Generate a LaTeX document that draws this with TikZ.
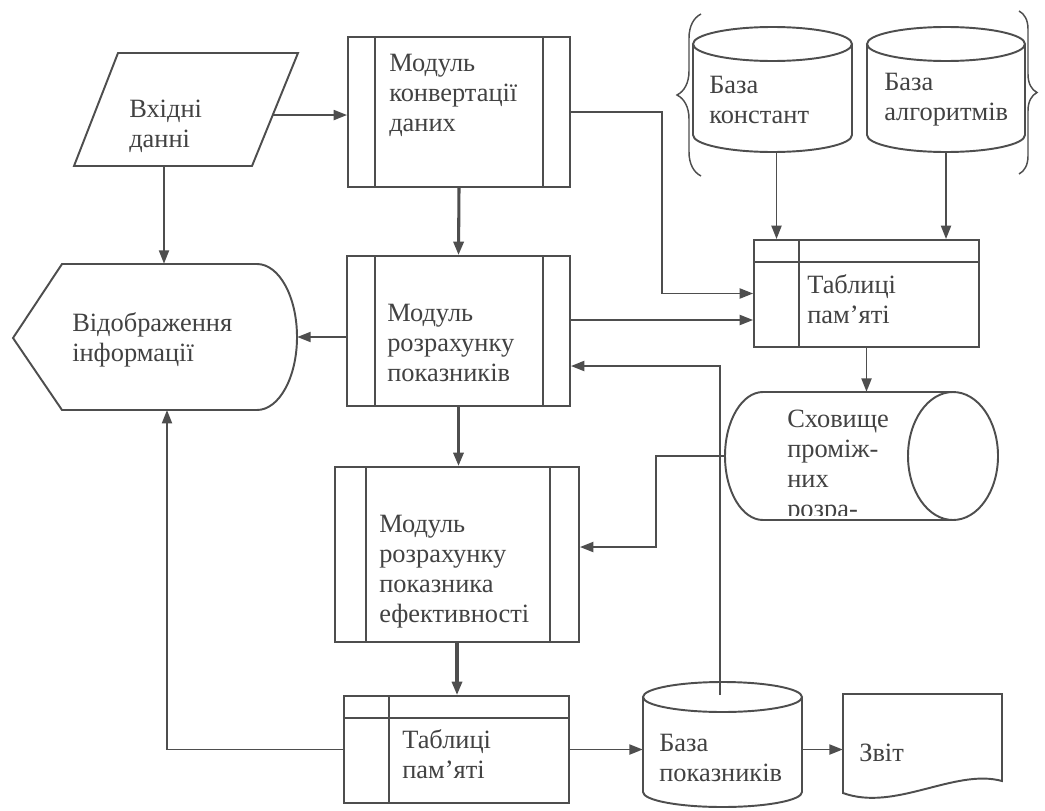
\documentclass[tikz,border=0pt]{standalone}
\usepackage{fontspec}
\setmainfont{Liberation Serif}
\usetikzlibrary{arrows.meta,fit,calc,decorations.pathreplacing}
\definecolor{ink}{RGB}{78,78,78}
\definecolor{txt}{RGB}{66,66,66}
\begin{document}
\begin{tikzpicture}[x=0.75pt,y=-0.75pt,
  line/.style={draw=ink,line width=1.45pt},
  conn/.style={line,-{Triangle[length=10pt,width=7.5pt]}},
  heavy/.style={line width=2.3pt},
  frame/.style={draw=ink,line width=1.45pt,inner sep=0pt},
  area/.style={inner sep=0pt},
  lbl/.style={text=txt,font=\fontsize{19.8}{22.5}\selectfont,align=left,inner sep=0pt,anchor=west},
  brc/.style={draw=ink,line width=1.1pt,decorate}]

\useasboundingbox[fill=white] (0,0) rectangle (1045,810);

% ---------- input data (parallelogram)
\coordinate (in-tl) at (118,53);
\coordinate (in-tr) at (298,53);
\coordinate (in-br) at (252,166);
\coordinate (in-bl) at (74,166);
\draw[line] (in-tl) -- (in-tr) -- (in-br) -- (in-bl) -- cycle;
\node[area,fit=(in-tl)(in-tr)(in-br)(in-bl)] (in) {};
\coordinate (in-r) at ($(in-tr)!0.549!(in-br)$);
\coordinate (in-b) at (164,166);
\node[lbl] (in-t) at (129,126.5) {Вхідні\\данні};

% ---------- display (output to screen)
\draw[line] (13,338) -- (62,264) -- (257,264)
  arc[start angle=-90,end angle=90,x radius=40,y radius=73] -- (62,410) -- cycle;
\node[area,fit={(13,264)(297,410)}] (disp) {};
\coordinate (disp-b) at (167,410);
\node[lbl] (disp-t) at (72,339.5) {Відображення\\інформації};

% ---------- processing modules
\node[frame,fit={(348,37)(570,187)}] (m1) {};
\draw[line] (375,37) -- (375,187) (543,37) -- (543,187);
\node[lbl] (m1-t) at (389,95) {Модуль\\конвертації\\даних};

\node[frame,fit={(347,256)(570,406)}] (m2) {};
\draw[line] (375,256) -- (375,406) (543,256) -- (543,406);
\node[lbl] (m2-t) at (387,343) {Модуль\\розрахунку\\показників};
\coordinate (m2-o) at ($(m2.east)+(0,-11)$);
\coordinate (m2-i) at ($(m2.east)+(0,35)$);

\node[frame,fit={(335,467)(579,642)}] (m3) {};
\draw[line] (366,467) -- (366,642) (550,467) -- (550,642);
\node[lbl] (m3-t) at (379,572) {Модуль\\розрахунку\\показника\\ефективності};
\coordinate (m3-i) at ($(m3.east)+(0,-7.5)$);

% ---------- memory tables
\node[frame,fit={(754,240)(979,347)}] (t1) {};
\draw[line] (754,262) -- (979,262) (799,240) -- (799,347);
\node[lbl] (t1-t) at (807,299) {Таблиці\\пам’яті};

\node[frame,fit={(344,696)(569,803)}] (t2) {};
\draw[line] (344,718) -- (569,718) (389,696) -- (389,803);
\node[lbl] (t2-t) at (402,754) {Таблиці\\пам’яті};

% ---------- databases
\draw[line] (693,44) -- (693,135)
  arc[start angle=180,end angle=0,x radius=79.5,y radius=17] -- (852,44);
\draw[line] (772.5,44) ellipse [x radius=79.5,y radius=17];
\node[area,fit={(693,27)(852,152)}] (bk) {};
\node[lbl] (bk-t) at (709,100) {База\\констант};

\draw[line] (867,44) -- (867,135)
  arc[start angle=180,end angle=0,x radius=79,y radius=17] -- (1025,44);
\draw[line] (946,44) ellipse [x radius=79,y radius=17];
\node[area,fit={(867,27)(1025,152)}] (ba) {};
\node[lbl] (ba-t) at (884,100) {База\\алгоритмів};

\draw[line] (643,697) -- (643,792)
  arc[start angle=180,end angle=0,x radius=79.5,y radius=15] -- (802,697);
\draw[line] (722.5,697) ellipse [x radius=79.5,y radius=15];
\node[area,fit={(643,682)(802,807)}] (bp) {};
\coordinate (bp-top) at (720,695);
\node[lbl] (bp-t) at (659,758) {База\\показників};

% braces grouping the two reference databases
\draw[brc,decoration={brace,amplitude=18pt,raise=0pt}] (701,176) -- (701,14);
\draw[brc,decoration={brace,amplitude=13.5pt}] (1019,11) -- (1019,174);

% ---------- intermediate storage (horizontal drum)
\draw[line] (953,392) -- (763,392)
  arc[start angle=270,end angle=90,x radius=38,y radius=64] -- (953,520);
\draw[line] (953,456) ellipse [x radius=45,y radius=64];
\node[area,fit={(725,392)(998,520)}] (st) {};
\begin{scope}
  \clip (725,385) rectangle (905,515);
  \node[lbl] (st-t) at (787,467) {Сховище\\проміж-\\них\\розра-};
\end{scope}

% ---------- report document
\draw[line] (843,694) -- (1002,694) -- (1002,781)
  .. controls (955,768) and (895,812) .. (843,793) -- cycle;
\node[area,fit={(843,694)(1002,793)}] (zv) {};
\node[lbl] (zv-t) at (859,753) {Звіт};

% ---------- connectors
\draw[conn] (in-r) -- (m1.west |- in-r);
\draw[conn] (in-b) -- (disp.north -| in-b);
\draw[conn,heavy] (m1.south) -- (m2.north);
\draw[conn] (m1.east) -| ($(t1.west)+(-91,0)$) -- (t1.west);
\draw[conn] (m2.west |- disp.east) -- (disp.east);
\draw[conn] (m2-o) -- (t1.west |- m2-o);
\draw[conn] ($(bk.south)+(4,0)$) -- ($(bk.south |- t1.north)+(4,0)$);
\draw[conn] (ba.south) -- (ba.south |- t1.north);
\draw[conn] (t1.south) -- (t1.south |- st.north);
\draw[conn] (st.west) -- ++(-69,0) |- (m3-i);
\draw[conn,heavy] (m2.south) -- (m2.south |- m3.north);
\draw[conn,heavy] (m3.south) -- (m3.south |- t2.north);
\draw[conn] (t2.west) -| (disp-b);
\draw[conn] (t2.east) -- (bp.west |- t2.east);
\draw[conn] (bp-top) |- (m2-i);
\draw[conn] (bp.east |- t2.east) -- (zv.west |- t2.east);

\end{tikzpicture}
\end{document}
